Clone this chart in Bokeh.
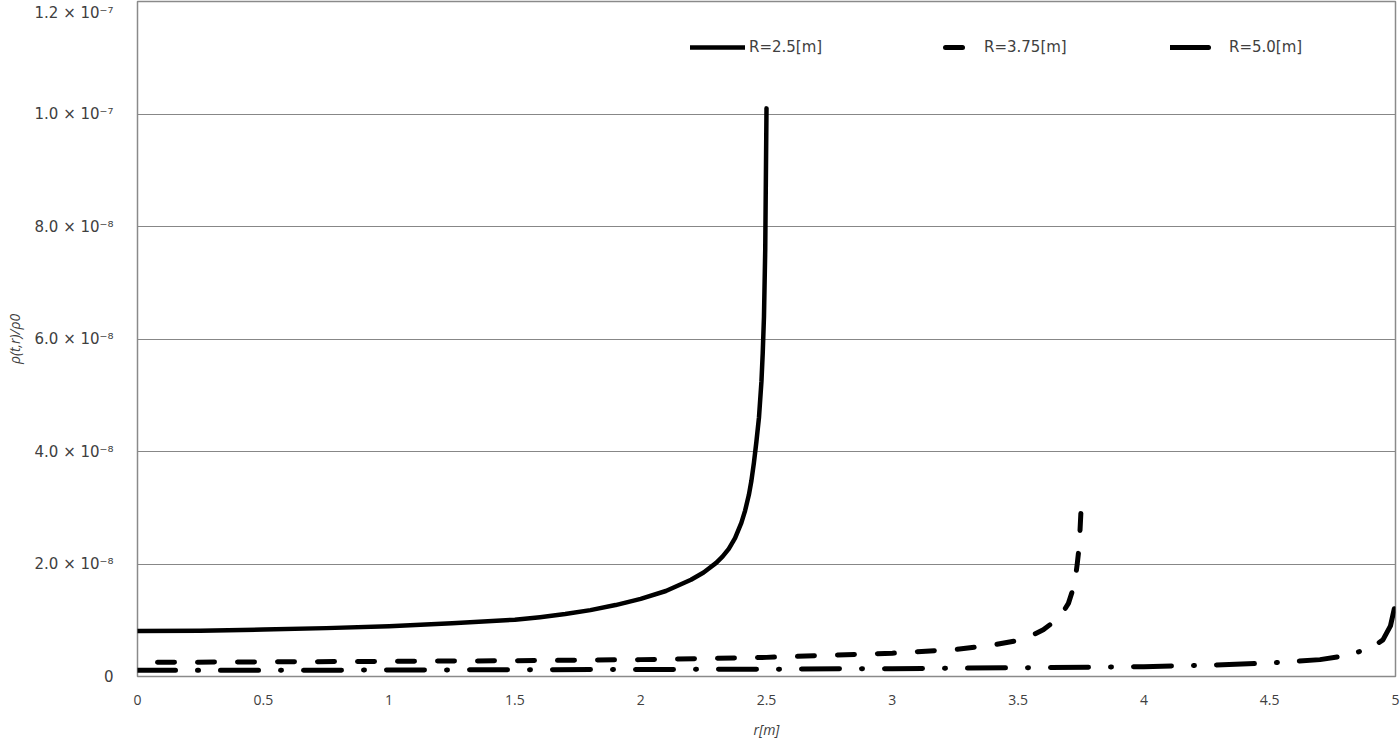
from bokeh.plotting import figure
from bokeh.models import (Legend, LegendItem, FixedTicker, CustomJSTickFormatter,
                          Range1d)
from bokeh.embed import file_html
from bokeh.resources import INLINE

# ---- data ----
r_R25 = [0, 0.25, 0.5, 0.75, 1.0, 1.25, 1.5, 1.6, 1.7, 1.8, 1.9, 2.0, 2.1, 2.2,
         2.25, 2.3, 2.325, 2.35, 2.375, 2.4, 2.415, 2.43, 2.44, 2.45, 2.46, 2.47,
         2.48, 2.485, 2.49, 2.495, 2.5]
rho_R25 = [8.1e-9, 8.15e-9, 8.35e-9, 8.6e-9, 8.95e-9, 9.45e-9, 10.1e-9, 10.55e-9,
           11.1e-9, 11.8e-9, 12.7e-9, 13.8e-9, 15.2e-9, 17.2e-9, 18.5e-9, 20.2e-9,
           21.3e-9, 22.7e-9, 24.6e-9, 27.3e-9, 29.5e-9, 32.3e-9, 34.8e-9, 38.0e-9,
           41.8e-9, 46.0e-9, 52.5e-9, 57.5e-9, 64.0e-9, 76.0e-9, 101.0e-9]

r_R375 = [0, 0.5, 1.0, 1.5, 2.0, 2.5, 3.0, 3.25, 3.4, 3.5, 3.55, 3.6, 3.65, 3.675,
          3.7, 3.725, 3.735, 3.74, 3.745, 3.75]
rho_R375 = [2.5e-9, 2.6e-9, 2.7e-9, 2.8e-9, 3.0e-9, 3.4e-9, 4.15e-9, 4.8e-9,
            5.6e-9, 6.4e-9, 7.2e-9, 8.3e-9, 10.0e-9, 11.2e-9, 13.0e-9, 16.5e-9,
            20.0e-9, 22.0e-9, 25.0e-9, 29.5e-9]

r_R50 = [0, 0.5, 1, 1.5, 2, 2.5, 3, 3.5, 4, 4.25, 4.5, 4.7, 4.8, 4.9, 4.95,
         4.98, 5.0]
rho_R50 = [1.1e-9, 1.1e-9, 1.15e-9, 1.2e-9, 1.25e-9, 1.3e-9, 1.4e-9, 1.55e-9,
           1.75e-9, 2.0e-9, 2.4e-9, 3.0e-9, 3.7e-9, 5.0e-9, 6.5e-9, 9.0e-9, 13.0e-9]

series_names = ["R=2.5[m]", "R=3.75[m]", "R=5.0[m]"]

y_ticks = [0, 2e-8, 4e-8, 6e-8, 8e-8, 1.0e-7, 1.2e-7]
y_tick_labels = ["0", "2.0 \u00d7 10\u207b\u2078", "4.0 \u00d7 10\u207b\u2078",
                 "6.0 \u00d7 10\u207b\u2078", "8.0 \u00d7 10\u207b\u2078",
                 "1.0 \u00d7 10\u207b\u2077", "1.2 \u00d7 10\u207b\u2077"]
x_ticks = [0, 0.5, 1, 1.5, 2, 2.5, 3, 3.5, 4, 4.5, 5]
x_tick_labels = ["0", "0.5", "1", "1.5", "2", "2.5", "3", "3.5", "4", "4.5", "5"]

TXT = "#404040"
FRAME_H = 675  # plot-area height in pixels

p = figure(width=1400, height=742, output_backend="svg", toolbar_location=None,
           x_range=Range1d(x_ticks[0], x_ticks[-1]),
           y_range=Range1d(y_ticks[0], y_ticks[-1]),
           min_border_left=137, min_border_right=5, min_border_top=1,
           min_border_bottom=66)
p.background_fill_color = "white"
p.border_fill_color = "white"
p.outline_line_color = "#8a8a8a"
p.outline_line_width = 1.5

fmt_code = """
let best = 0; let d = Infinity;
for (let i = 0; i < tvals.length; i++) {
  const dd = Math.abs(tvals[i] - tick);
  if (dd < d) { d = dd; best = i; }
}
return tlabels[best];
"""

# the label of the top tick sits a little inside the frame (as in the reference)
top_tick_pos = y_ticks[-1] - (y_ticks[-1] - y_ticks[0]) * 11.0 / FRAME_H
axis_ticks = y_ticks[:-1] + [top_tick_pos]

p.yaxis.ticker = FixedTicker(ticks=axis_ticks)
p.yaxis.formatter = CustomJSTickFormatter(args=dict(tvals=y_ticks, tlabels=y_tick_labels), code=fmt_code)
p.ygrid.ticker = FixedTicker(ticks=y_ticks[:-1])
p.xaxis.ticker = FixedTicker(ticks=x_ticks)
p.xaxis.formatter = CustomJSTickFormatter(args=dict(tvals=x_ticks, tlabels=x_tick_labels), code=fmt_code)

for ax in (p.xaxis, p.yaxis):
    ax.axis_line_color = None
    ax.major_tick_line_color = None
    ax.minor_tick_line_color = None
    ax.major_tick_out = 0
    ax.major_tick_in = 0
    ax.minor_tick_out = 0
    ax.minor_tick_in = 0
    ax.major_label_text_color = TXT
    ax.major_label_text_font_size = "14px"
    ax.axis_label_text_color = TXT
    ax.axis_label_text_font_size = "14px"
    ax.axis_label_text_font_style = "italic"
    ax.axis_label_text_font = "Open Sans"

p.yaxis.major_label_text_font = "DejaVu Sans"
p.yaxis.major_label_text_font_size = "15px"
p.xaxis.major_label_text_font = "Open Sans"
p.yaxis.major_label_standoff = 24
p.xaxis.major_label_standoff = 18
p.yaxis.axis_label = "\u03c1(t,r)/\u03c10"
p.xaxis.axis_label = "r[m]"
p.yaxis.axis_label_standoff = 8
p.xaxis.axis_label_standoff = 12

p.xgrid.visible = False
p.ygrid.grid_line_color = "#878787"
p.ygrid.grid_line_width = 1

l1 = p.line(r_R25, rho_R25, line_color="black", line_width=4.5, line_cap="round",
            line_join="round")
l2 = p.line(r_R375, rho_R375, line_color="black", line_width=5, line_cap="round",
            line_join="round", line_dash="17 23", line_dash_offset=20)
l3 = p.line(r_R50, rho_R50, line_color="black", line_width=5, line_cap="round",
            line_join="round", line_dash="38 22 1 22")

for rend, name, xloc in zip((l1, l2, l3), series_names, (553, 788, 1033)):
    lg = Legend(items=[LegendItem(label=name, renderers=[rend])],
                location=(xloc, 619), orientation="horizontal",
                border_line_color=None, background_fill_alpha=0,
                padding=0, margin=0, glyph_width=55, glyph_height=20,
                label_height=20, label_standoff=4,
                label_text_font="DejaVu Sans", label_text_font_size="15px",
                label_text_color=TXT)
    p.add_layout(lg, "center")

open("out.html", "w").write(file_html(p, INLINE))
